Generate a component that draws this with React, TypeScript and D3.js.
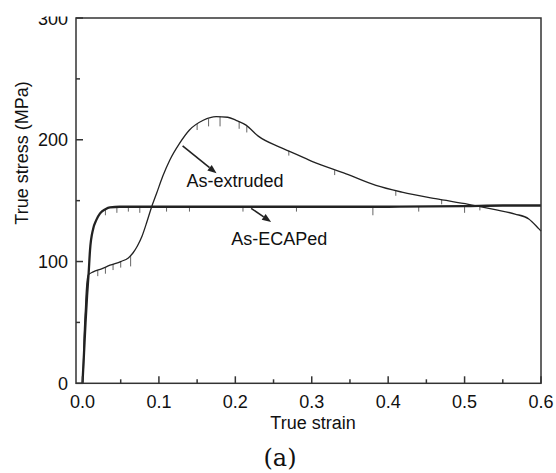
import React from "react";
import * as d3 from "d3";

// ---- data ----
const xTicks = [0, 0.1, 0.2, 0.3, 0.4, 0.5, 0.6];
const xMinorTicks = [0.05, 0.15, 0.25, 0.35, 0.45, 0.55];
const yTicks = [0, 100, 200, 300];
const yMinorTicks = [50, 150, 250];

const extrudedStrain = [0, 0.001, 0.002, 0.004, 0.005, 0.0076, 0.014, 0.025, 0.036, 0.05, 0.06, 0.066, 0.072, 0.078, 0.084, 0.09, 0.097, 0.105, 0.114, 0.127, 0.14, 0.158, 0.175, 0.19, 0.201, 0.214, 0.23, 0.258, 0.28, 0.301, 0.345, 0.384, 0.418, 0.462, 0.505, 0.54, 0.566, 0.584, 0.597, 0.6];
const extrudedStress = [0, 8, 35, 63, 76, 89, 91.5, 94, 97, 100, 103, 107, 113, 121, 132, 144, 156, 170, 183, 197, 208, 216, 219, 218.5, 216, 212, 203, 194, 188, 182, 172, 162.5, 157, 151.6, 147, 142.6, 139, 135, 127, 125];

const ecapStrain = [0, 0.002, 0.004, 0.006, 0.008, 0.0098, 0.014, 0.018, 0.023, 0.03, 0.036, 0.049, 0.1, 0.2, 0.3, 0.4, 0.5, 0.55, 0.6];
const ecapStress = [0, 25, 50, 72, 90, 109, 127, 134, 139.5, 143, 144.5, 145, 145, 145, 145, 145, 145.5, 146, 146];

// serration dips: [strain, top stress, bottom stress]
const extrudedDips = [
  [0.02, 93, 88], [0.03, 95, 90], [0.04, 98, 93], [0.05, 100, 95], [0.063, 105, 96],
  [0.15, 213, 208], [0.165, 217, 211], [0.18, 219, 211], [0.205, 215, 209], [0.215, 211, 206],
  [0.27, 191, 187], [0.33, 175, 171], [0.41, 158, 154], [0.47, 151, 147], [0.52, 145, 142],
];
const ecapDips = [
  [0.03, 143, 138], [0.045, 145, 140], [0.06, 145, 141], [0.075, 145, 140],
  [0.11, 145, 141], [0.14, 145, 141], [0.21, 145, 141], [0.28, 145, 141],
  [0.38, 145, 138], [0.44, 145, 141], [0.5, 145, 140],
];

// annotations: label + arrow in data units
const annExtruded = { text: "As-extruded", lx: 0.136, ly: 161, x1: 0.131, y1: 195, x2: 0.1754, y2: 172.4 };
const annEcap = { text: "As-ECAPed", lx: 0.1946, ly: 113.4, x1: 0.2207, y1: 143.7, x2: 0.2468, y2: 132.5 };

const W = 556, H = 473;
const L = 76, R = 541, T = 18, B = 383.3;

export default function App() {
  const x = d3.scaleLinear().domain([-0.0085, 0.6]).range([L, R]);
  const y = d3.scaleLinear().domain([0, 300]).range([B, T]);
  const line = d3.line<[number, number]>().x(d => x(d[0])).y(d => y(d[1])).curve(d3.curveMonotoneX);
  const ext = extrudedStrain.map((s, i) => [s, extrudedStress[i]] as [number, number]);
  const ecap = ecapStrain.map((s, i) => [s, ecapStress[i]] as [number, number]);
  const font = "'Liberation Sans', Arial, sans-serif";
  const col = "#222";

  const arrow = (a: typeof annExtruded, key: string) => {
    const X1 = x(a.x1), Y1 = y(a.y1), X2 = x(a.x2), Y2 = y(a.y2);
    const ang = Math.atan2(Y2 - Y1, X2 - X1);
    const hl = 9, hw = 3.5;
    const bx = X2 - hl * Math.cos(ang), by = Y2 - hl * Math.sin(ang);
    const p1 = [bx + hw * Math.sin(ang), by - hw * Math.cos(ang)];
    const p2 = [bx - hw * Math.sin(ang), by + hw * Math.cos(ang)];
    return (
      <g key={key}>
        <line x1={X1} y1={Y1} x2={bx} y2={by} stroke={col} strokeWidth={1.6} />
        <polygon points={`${X2},${Y2} ${p1[0]},${p1[1]} ${p2[0]},${p2[1]}`} fill={col} />
        <text x={x(a.lx)} y={y(a.ly)} fontFamily={font} fontSize={18} fill="#111">{a.text}</text>
      </g>
    );
  };

  return (
    <svg width={W} height={H} style={{ position: "absolute", left: 0, top: 0, background: "#fff" }}>
      <rect x={0} y={0} width={W} height={H} fill="#fff" />
      {/* curves */}
      <path d={line(ecap) || ""} fill="none" stroke={col} strokeWidth={2.3} />
      <path d={line(ext) || ""} fill="none" stroke={col} strokeWidth={1.3} />
      {ecapDips.map((d, i) => (
        <line key={"ed" + i} x1={x(d[0])} x2={x(d[0])} y1={y(d[1])} y2={y(d[2])} stroke={col} strokeWidth={0.7} />
      ))}
      {extrudedDips.map((d, i) => (
        <line key={"xd" + i} x1={x(d[0])} x2={x(d[0])} y1={y(d[1])} y2={y(d[2])} stroke={col} strokeWidth={0.7} />
      ))}
      {/* frame */}
      <rect x={L} y={T} width={R - L} height={B - T} fill="none" stroke="#333" strokeWidth={1.5} />
      {/* x ticks */}
      {xTicks.map(t => (
        <g key={"xt" + t}>
          <line x1={x(t)} x2={x(t)} y1={B} y2={B - 7} stroke="#333" strokeWidth={1.5} />
          <text x={x(t)} y={B + 25} textAnchor="middle" fontFamily={font} fontSize={18} fill="#111">{t.toFixed(1)}</text>
        </g>
      ))}
      {xMinorTicks.map(t => (
        <line key={"xm" + t} x1={x(t)} x2={x(t)} y1={B} y2={B - 4} stroke="#333" strokeWidth={1.5} />
      ))}
      {/* y ticks */}
      {yTicks.map(t => (
        <g key={"yt" + t}>
          <line x1={L} x2={L + 7} y1={y(t)} y2={y(t)} stroke="#333" strokeWidth={1.5} />
          <text x={68} y={y(t) + 6.5} textAnchor="end" fontFamily={font} fontSize={18} fill="#111">{t}</text>
        </g>
      ))}
      {yMinorTicks.map(t => (
        <line key={"ym" + t} x1={L} x2={L + 4} y1={y(t)} y2={y(t)} stroke="#333" strokeWidth={1.5} />
      ))}
      {/* annotations */}
      {arrow(annExtruded, "a1")}
      {arrow(annEcap, "a2")}
      {/* axis titles */}
      <text x={313} y={429} textAnchor="middle" fontFamily={font} fontSize={18} fill="#111">True strain</text>
      <text transform="translate(28,153) rotate(-90)" textAnchor="middle" fontFamily={font} fontSize={18} fill="#111">True stress (MPa)</text>
      <text x={280} y={466} textAnchor="middle" fontFamily="'DejaVu Serif', serif" fontSize={24} fill="#111">(a)</text>
      {/* top crop of the reference */}
      <rect x={0} y={0} width={W} height={16.5} fill="#fff" />
    </svg>
  );
}
